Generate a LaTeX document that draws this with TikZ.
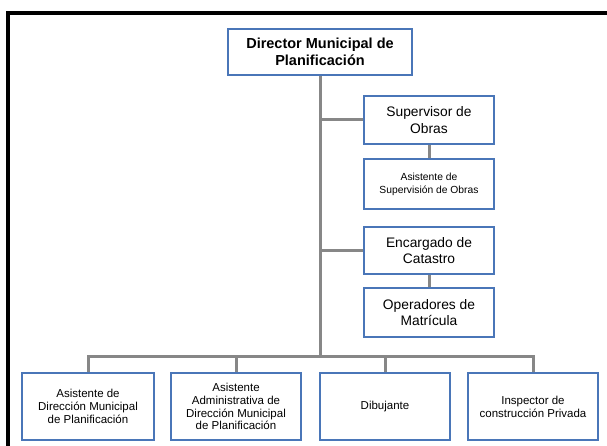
\documentclass[tikz,border=0pt]{standalone}
\usepackage{fontspec}
\setmainfont{Liberation Sans}
\pgfdeclarelayer{links}
\pgfsetlayers{links,main}
\begin{document}
\begin{tikzpicture}[x=1pt,y=-1pt,
  orgbox/.style={draw=boxblue, line width=2.2pt, fill=white, align=center,
    inner sep=0pt, anchor=center},
  link/.style={draw=linkgray, line width=3pt},
  frame/.style={draw=black, line width=3.6pt}]
\definecolor{boxblue}{HTML}{4A76B8}
\definecolor{linkgray}{HTML}{878787}
\useasboundingbox (0,0) rectangle (607,446);

% outer frame: top and left edges only
\draw[frame] (8,446) -- (8,13) -- (607,13);

% head of the office
\node[orgbox, minimum width=184pt, minimum height=46pt,
  font=\fontsize{14.5}{17.5}\selectfont\bfseries] (dir) at (320,52)
  {Director Municipal de\\Planificación};

% staff reporting on the right of the trunk
\begin{scope}[every node/.style={orgbox, minimum width=130pt}]
\node[minimum height=48pt, font=\fontsize{13.8}{16.6}\selectfont] (sup) at (429,120)
  {Supervisor de\\Obras};
\node[minimum height=50pt, font=\fontsize{10.3}{13.3}\selectfont] (asup) at (429,184)
  {Asistente de\\Supervisión de Obras};
\node[minimum height=47pt, font=\fontsize{13.8}{16.6}\selectfont] (cat) at (429,250.5)
  {Encargado de\\Catastro};
\node[minimum height=49pt, font=\fontsize{13.8}{16.6}\selectfont] (mat) at (429,312.5)
  {Operadores de\\Matrícula};
\end{scope}

% bottom row
\begin{scope}[every node/.style={orgbox, minimum height=67pt,
  font=\fontsize{11.5}{12.8}\selectfont}]
\node[minimum width=132pt] (adm) at (88,406.5)
  {Asistente de\\Dirección Municipal\\de Planificación};
\node[minimum width=130pt] (aadm) at (236,406.5)
  {Asistente\\Administrativa de\\Dirección Municipal\\de Planificación};
\node[minimum width=130pt] (dib) at (385,406.5) {Dibujante};
\node[minimum width=130pt] (insp) at (533,406.5)
  {Inspector de\\construcción Privada};
\end{scope}

% connectors, kept underneath the boxes
\coordinate (bus) at (320,356);
\begin{pgfonlayer}{links}
\draw[link] (dir.south) -- (bus);
\draw[link] (sup.west) -- (sup.west -| dir.south);
\draw[link] (cat.west) -- (cat.west -| dir.south);
\draw[link] (sup.south) -- (asup.north);
\draw[link] (cat.south) -- (mat.north);
\draw[link] (adm.north) -- (adm.north |- bus) -- (insp.north |- bus) -- (insp.north);
\draw[link] (aadm.north) -- (aadm.north |- bus);
\draw[link] (dib.north) -- (dib.north |- bus);
\end{pgfonlayer}
\end{tikzpicture}
\end{document}
